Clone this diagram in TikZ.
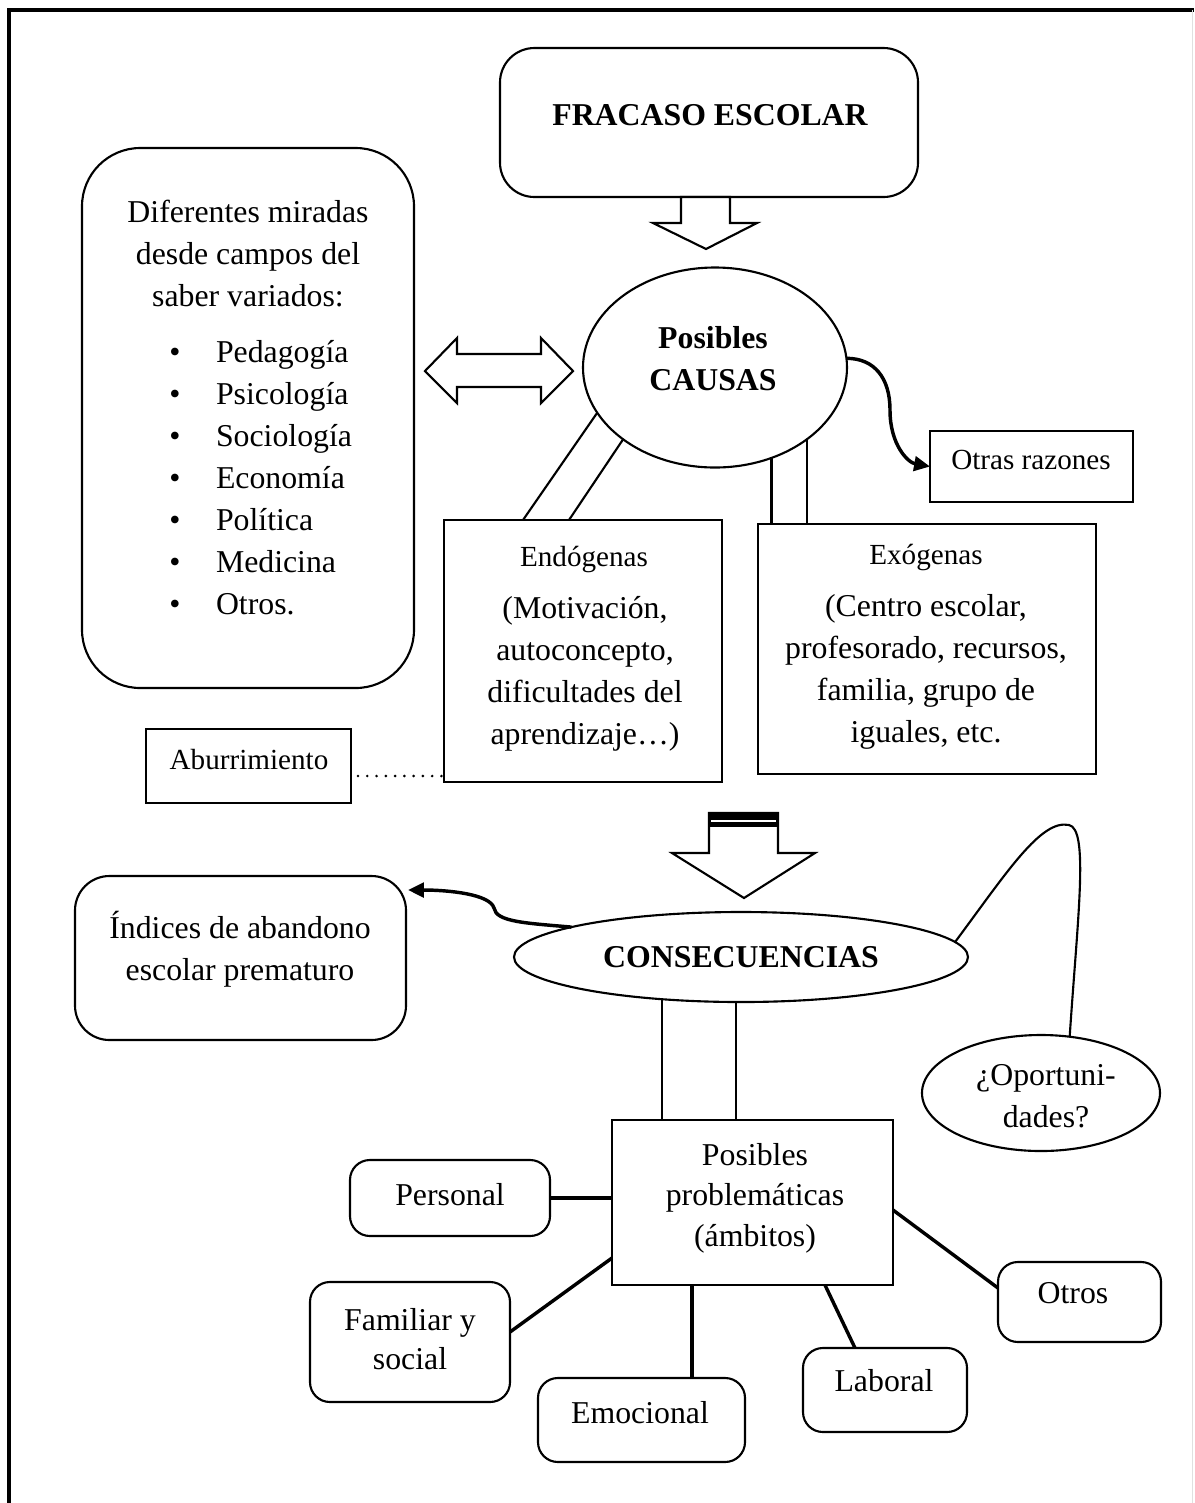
\documentclass[tikz,border=0pt]{standalone}
\usepackage{fontspec}
\setmainfont{Liberation Serif}
\usetikzlibrary{arrows.meta,calc,fit,shapes.geometric}

\newcommand\fA{\fontsize{12}{14.5}\selectfont}
\newcommand\fB{\fontsize{11}{13.5}\selectfont}

% one centred text line per entry, baselines #4 apart
\newcommand\txtlines[6]{%
  \foreach \linetext [count=\idx] in {#6} {
    \node[txt, font=#5, anchor=base] (#1\idx) at (#2, {#3+(\idx-1)*#4}) {\linetext};
  }}

\tikzset{
  box/.style={draw, line width=0.8pt, inner sep=0pt, outer sep=0pt},
  rbox/.style={box, rounded corners=#1},
  rbox/.default=7.5pt,
  oval/.style={draw, line width=0.8pt, ellipse, inner sep=0pt, outer sep=0pt},
  txt/.style={inner sep=0pt, outer sep=0pt},
  link/.style={line width=0.8pt},
  thicklink/.style={line width=1.3pt},
  curvearrow/.style={line width=1.3pt, -{Triangle[length=6pt,width=5.5pt]}},
  blockarrow/.style={draw, fill=white, line width=0.8pt, line join=miter},
  dotline/.style={line width=1.1pt, line cap=round, dash pattern=on 0pt off 3.5pt},
}

\begin{document}
\begin{tikzpicture}[x=0.3774pt, y=-0.3774pt]
\useasboundingbox (0,0) rectangle (1194,1503);

% page frame
\draw[line width=1.2pt] (9,1503) -- (9,10) -- (1194,10);
\draw[line width=0.4pt, black!12] (1192.5,10) -- (1192.5,1503);

% ---- title ----
\node[rbox=13pt, fit={(500,48) (918,197)}] (frac) {};
\node[txt, font=\fA\bfseries, anchor=base] (fract) at (710,125) {FRACASO ESCOLAR};

% block arrow down to the causes
\path[blockarrow] (681,197) -- (681,223) -- (653,223) -- (706,249) -- (757,223) -- (730,223) -- (730,197) -- cycle;

% ---- fields of knowledge ----
\node[rbox=22pt, fit={(82,148) (414,688)}] (mir) {};
\txtlines{mt}{248}{222}{42}{\fA}{Diferentes miradas,desde campos del,saber variados:}
\foreach \linetext [count=\idx] in {Pedagogía,Psicología,Sociología,Economía,Política,Medicina,Otros.} {
  \node[txt, font=\fA, anchor=base] (bul\idx) at (175, {362+(\idx-1)*42}) {\textbullet};
  \node[txt, font=\fA, anchor=base west] (item\idx) at (216, {362+(\idx-1)*42}) {\linetext};
}

% double block arrow
\path[blockarrow] (425,371) -- (457,338) -- (457,354) -- (541,354) -- (541,338) -- (573,371)
  -- (541,403) -- (541,387) -- (457,387) -- (457,403) -- cycle;

% ---- causes ----
\node[oval, minimum width=99.63pt, minimum height=75.48pt] (caus) at (715,367.5) {};
\txtlines{ct}{713}{348}{42}{\fA\bfseries}{Posibles,CAUSAS}

\node[box, fit={(930,431) (1133,502)}] (otras) {};
\node[txt, font=\fB, anchor=base] (otrast) at (1031,469) {Otras razones};

\node[box, fit={(444,520) (722,782)}] (endo) {};
\node[txt, font=\fB, anchor=base] (endot) at (584,566) {Endógenas};
\txtlines{en}{585}{618}{42}{\fA}{{(Motivación,},{autoconcepto,},dificultades del,aprendizaje…)}

\node[box, fit={(758,524) (1096,774)}] (exo) {};
\node[txt, font=\fB, anchor=base] (exot) at (926,564) {Exógenas};
\txtlines{ex}{926}{616}{42}{\fA}{{(Centro escolar,},{profesorado, recursos,},{familia, grupo de},{iguales, etc.}}

\node[box, fit={(146,729) (351,803)}] (abu) {};
\node[txt, font=\fB, anchor=base] (abut) at (249,769) {Aburrimiento};

% causes -> endogenous / exogenous (double lines)
\draw[link] (caus.201.6) -- ($(endo.north west)+(79,0)$);
\draw[link] (caus.218.85) -- ($(endo.north west)+(125,0)$);
\draw[link] (caus.302.35) -- (caus.302.35 |- exo.north);
\draw[link] (caus.322.64) -- (caus.322.64 |- exo.north);

% causes -> other reasons
\draw[curvearrow] (caus.4) .. controls +(28,0) and +(0,-32) .. (890,410)
  .. controls +(0,35) and +(-22,-4) .. (otras.west);

% boredom .... endogenous
\coordinate (d0) at ($(abu.east)+(7,10)$);
\draw[dotline] (d0) -- (d0 -| endo.west);

% block arrow down to the consequences
\path[blockarrow] (709,813) -- (709,853) -- (672,853) -- (744,898) -- (815,853) -- (778,853) -- (778,813) -- cycle;
\fill (709,812.5) rectangle (778,826.5);
\draw[white, line width=0.75pt] (711,821) -- (776,821);

% ---- consequences ----
\node[oval, minimum width=171.34pt, minimum height=33.97pt] (cons) at (741,957) {};
\node[txt, font=\fA\bfseries, anchor=base] (const) at (741,967) {CONSECUENCIAS};

\node[rbox=13pt, fit={(75,876) (406,1040)}] (ind) {};
\txtlines{it}{240}{938}{42}{\fA}{Índices de abandono,escolar prematuro}
\draw[curvearrow] (cons.170.7) .. controls +(-45,-4) and +(2,14) .. (494,908)
  .. controls +(-4,-14) and +(40,0) .. ($(ind.north east)+(2,14)$);

\node[oval, minimum width=89.82pt, minimum height=43.78pt] (opor) at (1041,1093) {};
\txtlines{ot}{1046}{1085}{42}{\fA}{¿Oportuni-,dades?}
\draw[link] (cons.4.7) .. controls +(52,-70) and +(-28,-6) .. (1069,825)
  .. controls +(20,4) and +(8,-120) .. (opor.63.4);

\node[box, fit={(612,1120) (893,1285)}] (prob) {};
\txtlines{pt}{755}{1165}{40.5}{\fA}{Posibles,problemáticas,(ámbitos)}
\draw[link] (cons.208.9) -- (cons.208.9 |- prob.north);
\draw[link] (cons.264.9) -- (cons.264.9 |- prob.north);

% ---- areas ----
\node[rbox, fit={(350,1160) (550,1236)}] (pers) {};
\node[txt, font=\fA, anchor=base] (perst) at (450,1205) {Personal};
\node[rbox, fit={(310,1282) (510,1402)}] (fam) {};
\txtlines{ft}{410}{1330}{39}{\fA}{Familiar y,social}
\node[rbox, fit={(538,1378) (745,1462)}] (emo) {};
\node[txt, font=\fA, anchor=base] (emot) at (640,1423) {Emocional};
\node[rbox, fit={(803,1348) (967,1432)}] (lab) {};
\node[txt, font=\fA, anchor=base] (labt) at (884,1391) {Laboral};
\node[rbox, fit={(998,1262) (1161,1342)}] (otr) {};
\node[txt, font=\fA, anchor=base] (otrt) at (1073,1303) {Otros};

\draw[thicklink] (pers.east) -- (pers.east -| prob.west);
\draw[thicklink] ($(fam.east)+(0,-10)$) -- ($(prob.south west)+(0,-27)$);
\draw[thicklink] ($(prob.south west)+(80,0)$) -- ($(emo.north west)+(154,0)$);
\draw[thicklink] ($(prob.south west)+(213,0)$) -- ($(lab.north west)+(52,0)$);
\draw[thicklink] ($(prob.north east)+(0,90)$) -- ($(otr.north west)+(0,26)$);
\end{tikzpicture}
\end{document}
